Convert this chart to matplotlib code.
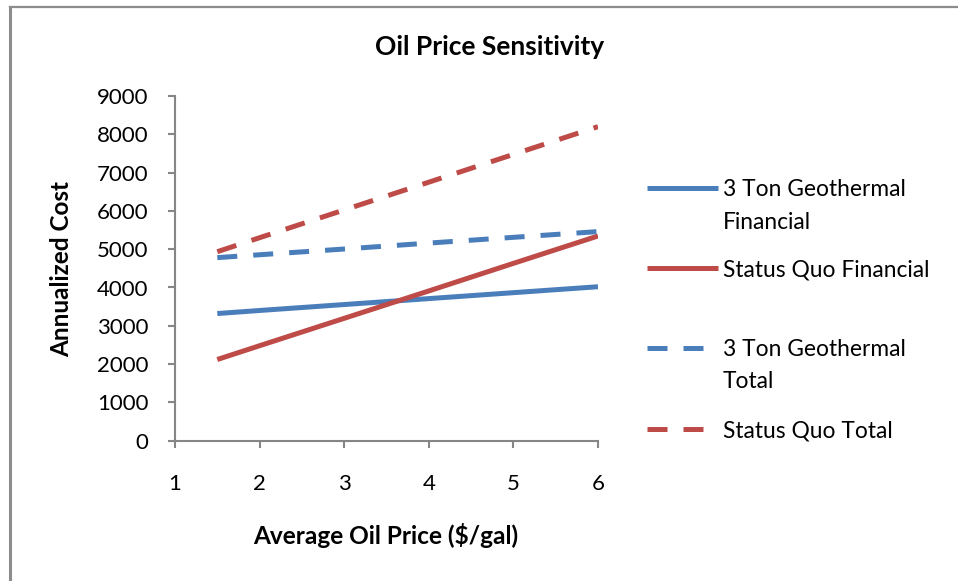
import matplotlib
matplotlib.use("Agg")
import matplotlib.pyplot as plt
from matplotlib.lines import Line2D

# ---- data ----
oil_price = [1.5, 2, 3, 4, 5, 6]
geo_financial = [3320, 3400, 3555, 3710, 3865, 4020]
sq_financial = [2120, 2480, 3195, 3910, 4630, 5345]
geo_total = [4780, 4855, 5005, 5160, 5310, 5460]
sq_total = [4935, 5300, 6025, 6750, 7475, 8200]

series_values = [geo_financial, sq_financial, geo_total, sq_total]
series_labels = ["3 Ton Geothermal\nFinancial", "Status Quo Financial",
                 "3 Ton Geothermal\nTotal", "Status Quo Total"]
x_ticks = [1, 2, 3, 4, 5, 6]
y_ticks = [0, 1000, 2000, 3000, 4000, 5000, 6000, 7000, 8000, 9000]

title = "Oil Price Sensitivity"
x_label = "Average Oil Price ($/gal)"
y_label = "Annualized Cost"

# ---- styles ----
BLUE = "#4A7EBB"
RED = "#BE4B48"
colors = [BLUE, RED, BLUE, RED]
dashed = [False, False, True, True]
LW = 3.6
DASH = (4.0, 3.2)  # in units of linewidth
GRAY = "#868686"
FONT = "Lato"

W, H = 958, 581
fig = plt.figure(figsize=(W / 100, H / 100), dpi=100)
fig.patch.set_facecolor("white")

def fx(px):
    return px / W

def fy(py):
    return 1 - py / H

ax = fig.add_axes([fx(175), fy(440.7), fx(598) - fx(175), fy(96) - fy(440.7)])
ax.set_facecolor("none")

for vals, c, d in zip(series_values, colors, dashed):
    ln, = ax.plot(oil_price, vals, color=c, lw=LW, solid_capstyle="butt",
                  dash_capstyle="butt")
    if d:
        ln.set_dashes(DASH)

ax.set_xlim(1, 6)
ax.set_ylim(0, 9000)
ax.set_xticks(x_ticks)
ax.set_yticks(y_ticks)
ax.set_xticklabels([str(v) for v in x_ticks], fontsize=16, family=FONT, color="black")
ax.set_yticklabels([str(v) for v in y_ticks], fontsize=16, family=FONT, color="black")

for s in ["top", "right"]:
    ax.spines[s].set_visible(False)
for s in ["left", "bottom"]:
    ax.spines[s].set_color(GRAY)
    ax.spines[s].set_linewidth(1.5)
ax.tick_params(axis="both", direction="out", length=5, width=1.5, color=GRAY)
ax.tick_params(axis="y", pad=14)
ax.tick_params(axis="x", pad=19)

# titles / labels
fig.text(fx(490), fy(47), title, ha="center", va="center", fontsize=19,
         fontweight="bold", family=FONT)
fig.text(fx(386), fy(535), x_label, ha="center", va="center", fontsize=17.6,
         fontweight="bold", family=FONT)
fig.text(fx(62), fy(269), y_label, ha="center", va="center", rotation=90,
         fontsize=17.5, fontweight="bold", family=FONT)

# legend (manual, Excel-like layout)
handle_y = [188, 268, 348, 429]
line_gap = 32
for lab, c, d, hy in zip(series_labels, colors, dashed, handle_y):
    l = Line2D([fx(647), fx(718)], [fy(hy), fy(hy)], transform=fig.transFigure,
               color=c, lw=LW, solid_capstyle="butt", dash_capstyle="butt")
    if d:
        l.set_dashes(DASH)
    fig.add_artist(l)
    for k, part in enumerate(lab.split("\n")):
        fig.text(fx(723), fy(hy + k * line_gap + 8.5), part, ha="left",
                 va="baseline", fontsize=16.4, family=FONT)

# outer chart border (partially visible)
fig.add_artist(Line2D([fx(10), fx(10)], [fy(6.5), fy(H + 5)],
                      transform=fig.transFigure, color="#8C8C8C", lw=2.2))
fig.add_artist(Line2D([fx(10), fx(W + 5)], [fy(7), fy(7)],
                      transform=fig.transFigure, color="#8C8C8C", lw=1.6))

fig.savefig("out.png", dpi=100, facecolor="white")
